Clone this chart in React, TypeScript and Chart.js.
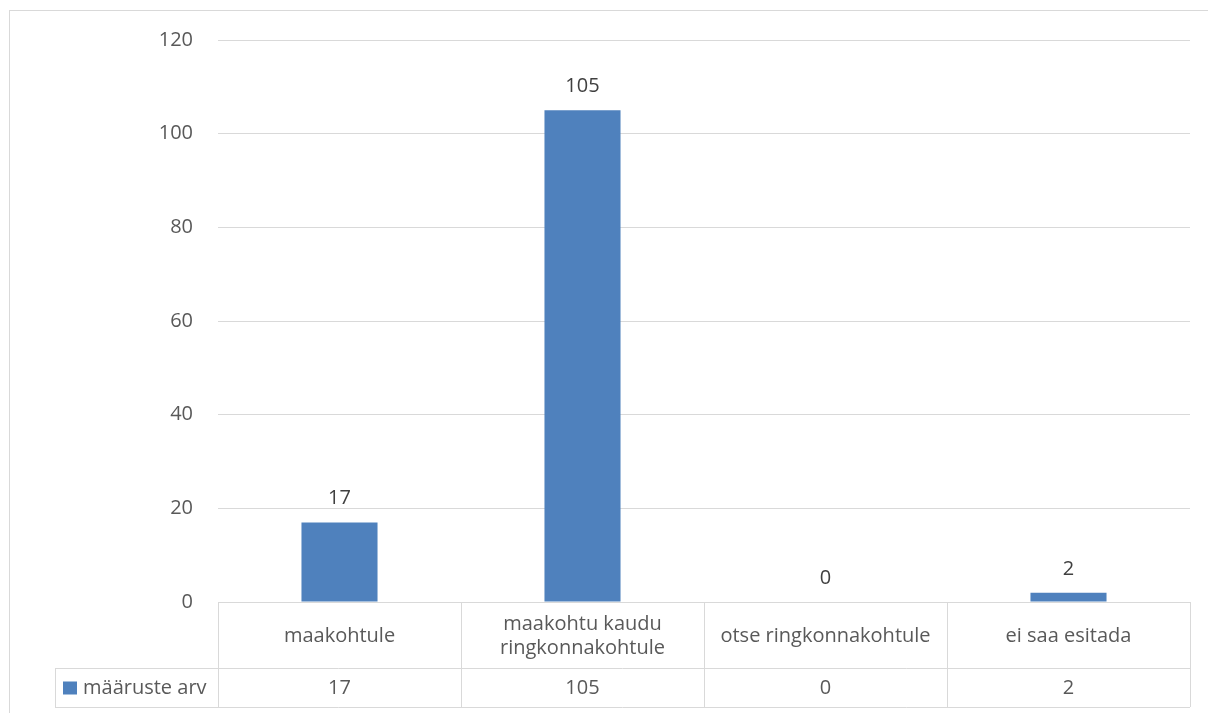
import React, { useEffect, useRef } from "react";
import { Chart, registerables } from "chart.js";

Chart.register(...registerables);

const categories: string[][] = [
  ["maakohtule"],
  ["maakohtu kaudu", "ringkonnakohtule"],
  ["otse ringkonnakohtule"],
  ["ei saa esitada"],
];
const seriesName = "määruste arv";
const values = [17, 105, 0, 2];
const yMin = 0;
const yMax = 120;
const yStep = 20;

const FONT_FAMILY = "'Open Sans', Lato, sans-serif";
const FONT_SIZE = 20;
const TEXT_COLOR = "#595959";
const LABEL_COLOR = "#404040";
const LINE_COLOR = "#d9d9d9";
const BAR_COLOR = "#4f81bd";

const tablePlugin = {
  id: "excelTable",
  afterDatasetsDraw(chart: any) {
    const ctx = chart.ctx as CanvasRenderingContext2D;
    const meta = chart.getDatasetMeta(0);
    ctx.save();
    ctx.font = `${FONT_SIZE}px ${FONT_FAMILY}`;
    ctx.fillStyle = LABEL_COLOR;
    ctx.textAlign = "center";
    ctx.textBaseline = "alphabetic";
    meta.data.forEach((bar: any, i: number) => {
      ctx.fillText(String(values[i]), bar.x, bar.y - 18);
    });
    ctx.restore();
  },
  afterDraw(chart: any) {
    const ctx = chart.ctx as CanvasRenderingContext2D;
    const { left, right, bottom } = chart.chartArea;
    const xs = chart.scales.x;
    const n = categories.length;
    const w = (right - left) / n;
    const rowTop = bottom;
    const rowMid = bottom + 66;
    const rowBot = bottom + 105;
    const tableLeft = 55;

    ctx.save();
    ctx.strokeStyle = LINE_COLOR;
    ctx.lineWidth = 1;
    const line = (x1: number, y1: number, x2: number, y2: number) => {
      ctx.beginPath();
      ctx.moveTo(x1, y1);
      ctx.lineTo(x2, y2);
      ctx.stroke();
    };
    const r = (v: number) => Math.round(v) + 0.5;
    line(left, r(rowTop), right, r(rowTop));
    line(tableLeft, r(rowMid), right, r(rowMid));
    line(tableLeft, r(rowBot), right, r(rowBot));
    for (let i = 0; i <= n; i++) {
      const xi = r(left + i * w);
      line(xi, rowTop, xi, rowBot);
    }
    line(r(tableLeft), rowMid, r(tableLeft), rowBot);

    // outer chart border
    ctx.strokeRect(9.5, 10.5, chart.width + 10, chart.height + 10);

    // category labels
    ctx.font = `${FONT_SIZE}px ${FONT_FAMILY}`;
    ctx.fillStyle = TEXT_COLOR;
    ctx.textAlign = "center";
    ctx.textBaseline = "middle";
    const catMid = (rowTop + rowMid) / 2 + 1;
    const lh = 24;
    categories.forEach((lines, i) => {
      const cx = xs.getPixelForValue(i);
      const start = catMid - ((lines.length - 1) * lh) / 2;
      lines.forEach((t, j) => ctx.fillText(t, cx, start + j * lh));
    });

    // series row
    const serMid = (rowMid + rowBot) / 2 + 1;
    values.forEach((v, i) => {
      ctx.fillText(String(v), xs.getPixelForValue(i), serMid);
    });
    ctx.fillStyle = BAR_COLOR;
    ctx.fillRect(63, serMid - 7, 14, 13);
    ctx.fillStyle = TEXT_COLOR;
    ctx.textAlign = "left";
    ctx.fillText(seriesName, 83, serMid);
    ctx.restore();
  },
};

export default function App() {
  const ref = useRef<HTMLCanvasElement | null>(null);
  useEffect(() => {
    if (!ref.current) return;
    const chart = new Chart(ref.current, {
      type: "bar",
      data: {
        labels: categories.map((c) => c.join(" ")),
        datasets: [
          {
            label: seriesName,
            data: values,
            backgroundColor: BAR_COLOR,
            borderWidth: 0,
            barPercentage: 0.313,
            categoryPercentage: 1,
          },
        ],
      },
      options: {
        animation: false,
        responsive: false,
        devicePixelRatio: 1,
        layout: { padding: { left: 0, top: 40, right: 18, bottom: 0 } },
        plugins: {
          legend: { display: false },
          tooltip: { enabled: false },
        },
        scales: {
          x: {
            grid: { display: false },
            border: { display: false },
            ticks: { display: false },
            afterFit: (scale: any) => {
              scale.height = 111;
            },
          },
          y: {
            min: yMin,
            max: yMax,
            ticks: {
              stepSize: yStep,
              padding: 25,
              color: TEXT_COLOR,
              font: { family: FONT_FAMILY, size: FONT_SIZE },
            },
            grid: { color: LINE_COLOR, lineWidth: 1, drawTicks: false },
            border: { display: false },
            afterFit: (scale: any) => {
              scale.width = 218;
            },
          },
        },
      },
      plugins: [tablePlugin],
    });
    return () => chart.destroy();
  }, []);
  return (
    <div style={{ position: "absolute", left: 0, top: 0, width: 1208, height: 713, background: "#fff" }}>
      <canvas ref={ref} width={1208} height={713} style={{ display: "block" }} />
    </div>
  );
}
